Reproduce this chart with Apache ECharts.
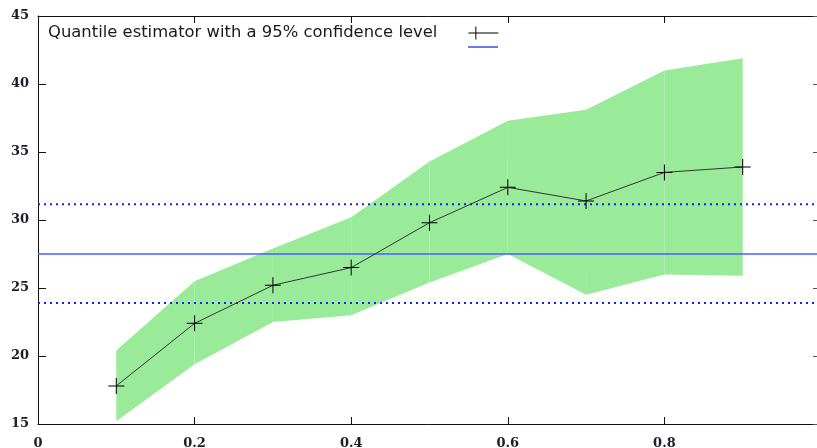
<!DOCTYPE html>
<html>
<head>
<meta charset="utf-8">
<script src="https://cdn.jsdelivr.net/npm/echarts@6/dist/echarts.min.js"></script>
<style>
  html, body { margin: 0; padding: 0; background: #fff; }
  #chart { width: 817px; height: 448px; }
</style>
</head>
<body>
<div id="chart"></div>
<script>
// Probability levels at which the quantile was estimated
const levels = [0.1, 0.2, 0.3, 0.4, 0.5, 0.6, 0.7, 0.8, 0.9];
// Estimated quantile and its 95% confidence bounds
const quantile = [17.8, 22.4, 25.2, 26.5, 29.8, 32.4, 31.4, 33.5, 33.9];
const upperBound = [20.4, 25.5, 27.9, 30.2, 34.3, 37.3, 38.1, 41.0, 41.9];
const lowerBound = [15.2, 19.4, 22.5, 23.0, 25.4, 27.5, 24.5, 26.0, 25.9];
// Reference level and its interval
const refLevel = [27.5];
const refInterval = [23.9, 31.15];
// Axis ranges
const xRange = [0, 1];
const yRange = [15, 45];

const crossPath = 'path://M0,7.5H16V8.5H0Z M7.5,0H8.5V16H7.5Z';
const legendTitle = 'Quantile estimator with a 95% confidence level';

// Band as quads between consecutive levels
const bandData = levels.slice(0, -1).map((x, i) => [
  x, lowerBound[i], upperBound[i], levels[i + 1], lowerBound[i + 1], upperBound[i + 1]
]);

function hLine(y) {
  return [[xRange[0], y], [xRange[1], y]];
}

const chart = echarts.init(document.getElementById('chart'), null, { renderer: 'canvas' });

const tickLabel = {
  fontFamily: 'DejaVu Serif',
  fontWeight: 'bold',
  fontSize: 13,
  color: '#1c1c2a'
};

chart.setOption({
  animation: false,
  backgroundColor: '#ffffff',
  grid: { left: 38, top: 16, right: -4, bottom: 24, containLabel: false, outerBoundsMode: 'none' },
  legend: [
    {
      selectedMode: false,
      left: 48,
      top: 25,
      padding: 0,
      align: 'right',
      itemWidth: 30,
      itemHeight: 13,
      data: [{ name: legendTitle, icon: 'path://M0,6H30V7H0Z M7,0H8V13H7Z', itemStyle: { color: '#000' } }],
      textStyle: {
        fontFamily: 'DejaVu Sans',
        fontSize: 16.4,
        color: '#1a1a1a',
        padding: [0, 26, 0, 0]
      }
    },
    {
      selectedMode: false,
      left: 468,
      top: 46,
      padding: 0,
      itemWidth: 30,
      itemHeight: 2,
      data: [{ name: 'mean', icon: 'path://M0,0H30V2H0Z', itemStyle: { color: '#6d78f5' } }],
      formatter: function () { return ''; }
    }
  ],
  xAxis: [
    {
      type: 'value', min: xRange[0], max: xRange[1], interval: 0.2,
      axisLine: { show: true, lineStyle: { color: '#111', width: 1 } },
      axisTick: { show: true, inside: true, length: 7, lineStyle: { color: '#111' } },
      axisLabel: Object.assign({
        margin: 13,
        showMaxLabel: false,
        formatter: v => (v === 0 ? '0' : String(+v.toFixed(1)))
      }, tickLabel),
      splitLine: { show: false }
    },
    {
      type: 'value', min: xRange[0], max: xRange[1], interval: 0.2, position: 'top',
      axisLine: { show: true, onZero: false, lineStyle: { color: '#111', width: 1 } },
      axisTick: { show: true, inside: true, length: 7, lineStyle: { color: '#111' } },
      axisLabel: { show: false },
      splitLine: { show: false }
    }
  ],
  yAxis: [
    {
      type: 'value', min: yRange[0], max: yRange[1], interval: 5,
      axisLine: { show: true, lineStyle: { color: '#111', width: 1 } },
      axisTick: { show: true, inside: true, length: 8, lineStyle: { color: '#111' } },
      axisLabel: Object.assign({ margin: 9 }, tickLabel),
      splitLine: { show: false }
    },
    {
      type: 'value', min: yRange[0], max: yRange[1], interval: 5, position: 'right',
      axisLine: { show: true, onZero: false, lineStyle: { color: '#111', width: 1 } },
      axisTick: { show: true, inside: true, length: 8, lineStyle: { color: '#555' } },
      axisLabel: { show: false },
      splitLine: { show: false }
    }
  ],
  series: [
    {
      name: 'band',
      type: 'custom',
      z: 1,
      silent: true,
      encode: { x: [0, 3], y: [1, 2, 4, 5] },
      data: bandData,
      renderItem: function (params, api) {
        const p1 = api.coord([api.value(0), api.value(1)]);
        const p2 = api.coord([api.value(0), api.value(2)]);
        const p3 = api.coord([api.value(3), api.value(5)]);
        const p4 = api.coord([api.value(3), api.value(4)]);
        return {
          type: 'polygon',
          shape: { points: [p1, p2, p3, p4] },
          style: { fill: '#99ea99', stroke: null }
        };
      }
    },
    {
      name: 'mean',
      type: 'line',
      z: 3,
      symbol: 'none',
      silent: true,
      itemStyle: { color: '#4d5cff' },
      lineStyle: { color: '#4d5cff', width: 1.3 },
      data: hLine(refLevel[0])
    },
    {
      name: 'low',
      type: 'line',
      z: 3,
      symbol: 'none',
      silent: true,
      lineStyle: { color: '#1020ff', width: 2, type: [2, 4] },
      data: hLine(refInterval[0])
    },
    {
      name: 'high',
      type: 'line',
      z: 3,
      symbol: 'none',
      silent: true,
      lineStyle: { color: '#1020ff', width: 2, type: [2, 4] },
      data: hLine(refInterval[1])
    },
    {
      name: legendTitle,
      type: 'line',
      z: 4,
      symbol: crossPath,
      symbolSize: 16,
      showAllSymbol: true,
      itemStyle: { color: '#000' },
      lineStyle: { color: '#333', width: 1 },
      data: levels.map((x, i) => [x, quantile[i]])
    }
  ]
});
</script>
</body>
</html>
